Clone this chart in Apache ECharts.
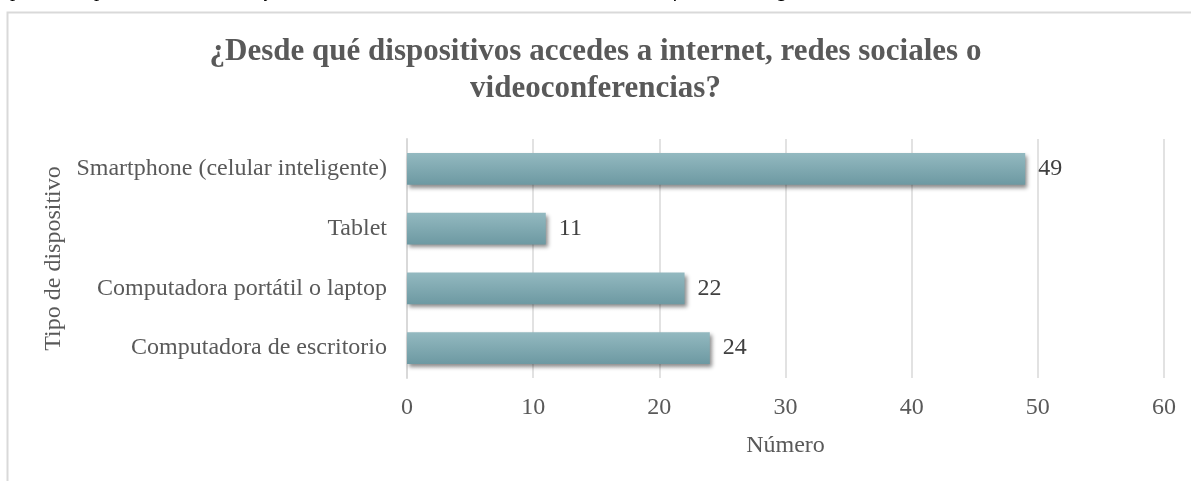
<!DOCTYPE html>
<html>
<head>
<meta charset="utf-8">
<script src="https://cdn.jsdelivr.net/npm/echarts@6/dist/echarts.min.js"></script>
<style>
html,body{margin:0;padding:0;background:#fff;}
#chart{width:1191px;height:481px;}
</style>
</head>
<body>
<div id="chart"></div>
<script>
const titleText = "¿Desde qué dispositivos accedes a internet, redes sociales o\nvideoconferencias?";
const captionText = "Figura 12. Tipos de dispositivos desde los que acceden a internet, redes sociales o videoconferencias, según";
const categories = ["Smartphone (celular inteligente)", "Tablet", "Computadora portátil o laptop", "Computadora de escritorio"];
const values = [49, 11, 22, 24];
const xTicks = [0, 10, 20, 30, 40, 50, 60];
const xName = "Número";
const yName = "Tipo de dispositivo";

const serif = "'Liberation Serif', 'Times New Roman', serif";
const chart = echarts.init(document.getElementById('chart'));
chart.setOption({
  animation: false,
  backgroundColor: '#fff',
  title: {
    text: titleText,
    left: 'center',
    top: 28,
    textStyle: {fontFamily: serif, fontSize: 31, fontWeight: 'bold', color: '#595959', lineHeight: 37}
  },
  graphic: [
    {type: 'rect', shape: {x: 7.5, y: 12.5, width: 1220, height: 520}, style: {fill: 'none', stroke: '#d9d9d9', lineWidth: 2}, silent: true},
    {type: 'text', left: -100, top: -20, style: {text: captionText, font: "italic 21px 'Liberation Serif'", fill: '#000'}, silent: true}
  ],
  grid: {left: 407, right: 27, top: 139, height: 239, containLabel: false},
  xAxis: {
    type: 'value',
    min: xTicks[0], max: xTicks[xTicks.length - 1], interval: 10,
    name: xName, nameLocation: 'middle', nameGap: 56,
    nameTextStyle: {fontFamily: serif, fontSize: 24, color: '#595959'},
    axisLine: {show: false}, axisTick: {show: false},
    axisLabel: {fontFamily: serif, fontSize: 24, color: '#595959', margin: 18},
    splitLine: {show: true, lineStyle: {color: '#d9d9d9', width: 1.5}}
  },
  yAxis: {
    type: 'category', data: categories, inverse: true,
    name: yName, nameLocation: 'middle', nameGap: 332, nameRotate: 90,
    nameTextStyle: {fontFamily: serif, fontSize: 24, color: '#595959'},
    axisLine: {show: true, lineStyle: {color: '#d9d9d9', width: 2}},
    axisTick: {show: false},
    axisLabel: {fontFamily: serif, fontSize: 24, color: '#595959', margin: 20}
  },
  series: [{
    type: 'bar', data: values, barWidth: '53%',
    itemStyle: {
      color: new echarts.graphic.LinearGradient(0, 0, 0, 1, [
        {offset: 0, color: '#93b9c0'}, {offset: 1, color: '#6d99a2'}
      ]),
      shadowColor: 'rgba(0,0,0,0.45)', shadowBlur: 4, shadowOffsetX: 2, shadowOffsetY: 3
    },
    label: {show: true, position: 'right', distance: 13, fontFamily: serif, fontSize: 24, color: '#404040'}
  }]
});
</script>
</body>
</html>
